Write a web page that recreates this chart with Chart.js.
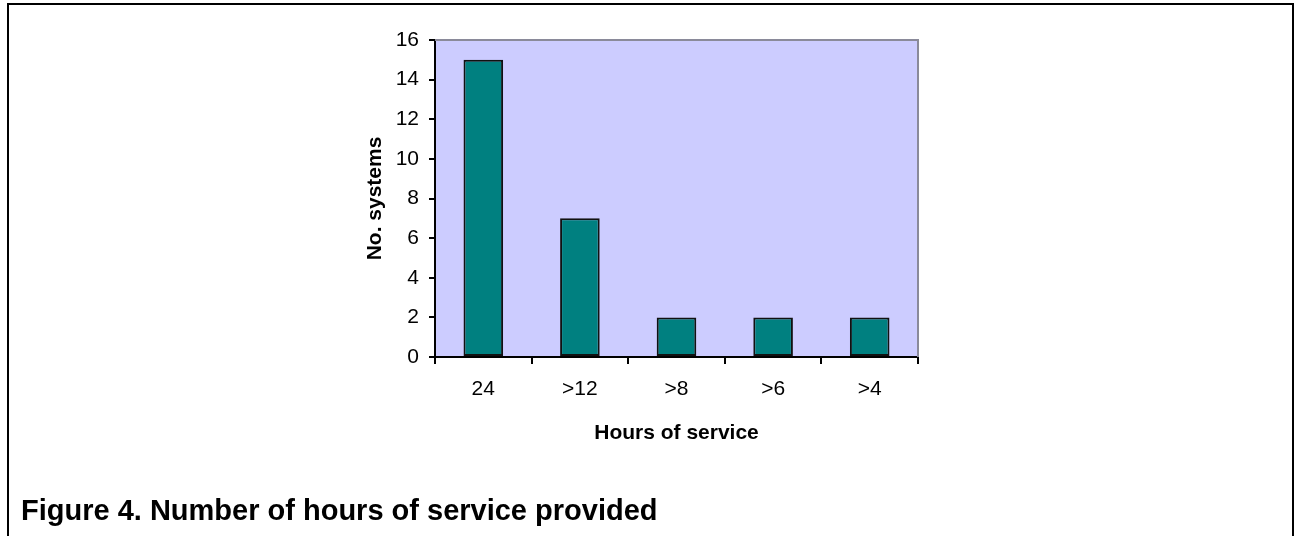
<!DOCTYPE html>
<html lang="en">
<head>
  <meta charset="UTF-8">
  <title>Figure 4. Number of hours of service provided</title>
  <script src="https://cdn.jsdelivr.net/npm/chart.js@4.4.3/dist/chart.umd.min.js"></script>
  <style>
    html, body { margin: 0; padding: 0; background: #fff; }
    body { width: 1298px; height: 536px; position: relative; overflow: hidden; font-family: Arial, "Liberation Sans", sans-serif; }
    #frame { position: absolute; left: 7px; top: 3px; width: 1283px; height: 600px; border: 2px solid #000; border-bottom: none; }
    #chart-wrap { position: absolute; left: 0; top: 0; width: 1298px; height: 536px; }
    #caption { position: absolute; left: 21px; top: 493px; margin: 0; font-size: 29px; line-height: 34px; font-weight: bold; color: #000; white-space: nowrap; }
  </style>
</head>
<body>
  <div id="frame"></div>
  <div id="chart-wrap"><canvas id="hours-chart"></canvas></div>
  <p id="caption">Figure 4. Number of hours of service provided</p>

  <script>
    // data
    const categories = ['24', '>12', '>8', '>6', '>4'];
    const systemCounts = [15, 7, 2, 2, 2];
    const yTicks = [0, 2, 4, 6, 8, 10, 12, 14, 16];

    // lavender plot background + grey top/right frame, like the Excel original
    const plotFrame = {
      id: 'plotFrame',
      beforeDraw(chart) {
        const { ctx, chartArea: a } = chart;
        ctx.save();
        ctx.fillStyle = '#ccccff';
        ctx.fillRect(a.left, a.top, a.right - a.left, a.bottom - a.top);
        ctx.restore();
      },
      afterDraw(chart) {
        const { ctx, chartArea: a } = chart;
        ctx.save();
        ctx.strokeStyle = '#8a8a9a';
        ctx.lineWidth = 2;
        ctx.beginPath();
        ctx.moveTo(a.left, a.top);
        ctx.lineTo(a.right, a.top);
        ctx.lineTo(a.right, a.bottom);
        ctx.stroke();
        ctx.restore();
      }
    };

    const tickFont = { family: 'Arial, "Liberation Sans", sans-serif', size: 21 };
    const titleFont = { family: 'Arial, "Liberation Sans", sans-serif', size: 21, weight: 'bold' };

    new Chart(document.getElementById('hours-chart'), {
      type: 'bar',
      data: {
        labels: categories,
        datasets: [{
          label: 'No. systems',
          data: systemCounts,
          backgroundColor: '#008080',
          borderColor: '#111',
          borderWidth: 2,
          borderSkipped: false,
          categoryPercentage: 1,
          barPercentage: 0.41
        }]
      },
      options: {
        responsive: true,
        maintainAspectRatio: false,
        animation: false,
        layout: { padding: { left: 355, top: 40, right: 380, bottom: 79 } },
        plugins: { legend: { display: false }, tooltip: { enabled: false } },
        scales: {
          x: {
            afterFit: s => { s.height = 100; },
            grid: { offset: true, drawOnChartArea: false, drawTicks: true, tickLength: 7, color: '#000', lineWidth: 2 },
            border: { color: '#000', width: 2 },
            ticks: { color: '#000', font: tickFont, padding: 13, maxRotation: 0 },
            title: { display: true, text: 'Hours of service', color: '#000', font: titleFont, padding: { top: 4, bottom: 11 } }
          },
          y: {
            min: 0,
            max: 16,
            afterFit: s => { s.width = 80; },
            afterBuildTicks: s => { s.ticks = yTicks.map(v => ({ value: v })); },
            grid: { drawOnChartArea: false, drawTicks: true, tickLength: 6, color: '#000', lineWidth: 2 },
            border: { color: '#000', width: 2 },
            ticks: { color: '#000', font: tickFont, padding: 10 },
            title: { display: true, text: 'No. systems', color: '#000', font: titleFont, padding: { top: 8, bottom: 4 } }
          }
        }
      },
      plugins: [plotFrame]
    });
  </script>
</body>
</html>
